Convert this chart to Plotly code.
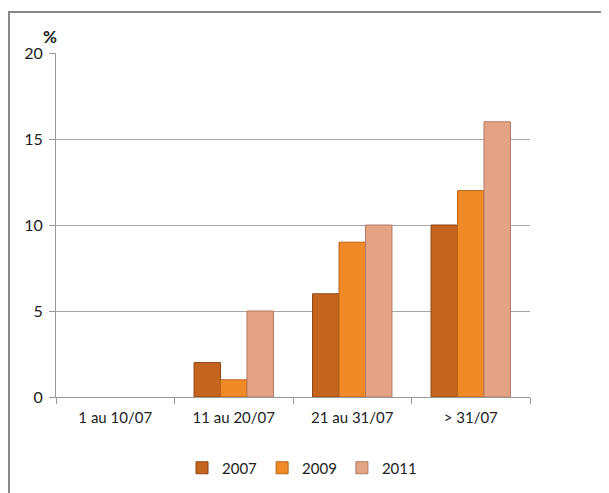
import plotly.graph_objects as go

categories = ["1 au 10/07", "11 au 20/07", "21 au 31/07", "> 31/07"]
series_names = ["2007", "2009", "2011"]
v2007 = [None, 2, 6, 10]
v2009 = [None, 1, 9, 12]
v2011 = [None, 5, 10, 16]
y_ticks = [0, 5, 10, 15, 20]

colors = ["#C4641F", "#F08A26", "#E4A384"]
line_colors = ["#8E4512", "#B9651A", "#B27A60"]

fig = go.Figure()
for name, vals, c, lc in zip(series_names, [v2007, v2009, v2011], colors, line_colors):
    fig.add_trace(go.Bar(
        x=categories, y=vals, name=name,
        marker=dict(color=c, line=dict(color=lc, width=1)),
    ))

FONT = "Lato, Liberation Sans, Arial"
OFF = 8  # page body margin offset
L, T, R, B = 56 - OFF, 53 - OFF, 530 - OFF, 397 - OFF
PW, PH = R - L, B - T

def px(x):
    return (x - OFF - L) / PW

def py(y):
    return (B - (y - OFF)) / PH

fig.update_layout(
    width=609, height=493,
    margin=dict(l=L, r=609 - R, t=T, b=493 - B),
    paper_bgcolor="white", plot_bgcolor="white",
    barmode="group", bargap=0.33, bargroupgap=0.0,
    font=dict(family=FONT, size=14, color="#222"),
    showlegend=True,
    legend=dict(orientation="h", x=px(302), xanchor="center", y=py(468), yanchor="middle",
                font=dict(family=FONT, size=15, color="#222"), itemwidth=30,
                traceorder="normal"),
    xaxis=dict(showgrid=False, showline=True, linecolor="#999", linewidth=1,
               ticks="outside", ticklen=6, tickcolor="#999", tickson="boundaries",
               ticklabelstandoff=7,
               tickfont=dict(family=FONT, size=15, color="#222")),
    yaxis=dict(range=[0, 20], tickvals=y_ticks, showgrid=True, gridcolor="#A6A6A6",
               gridwidth=1, showline=True, linecolor="#999", linewidth=1,
               ticks="outside", ticklen=6, tickcolor="#999", zeroline=False,
               ticklabelstandoff=3,
               tickfont=dict(family=FONT, size=16, color="#222")),
    shapes=[dict(type="rect", xref="paper", yref="paper",
                 x0=px(9), x1=px(640), y0=py(520), y1=py(12),
                 line=dict(color="#888", width=2), fillcolor="rgba(0,0,0,0)",
                 layer="below")],
    annotations=[dict(text="<b>%</b>", xref="paper", yref="paper",
                      x=px(50), y=py(37),
                      xanchor="center", yanchor="middle", showarrow=False,
                      font=dict(family=FONT, size=17, color="#222"))],
)

fig.write_html("out.html")
